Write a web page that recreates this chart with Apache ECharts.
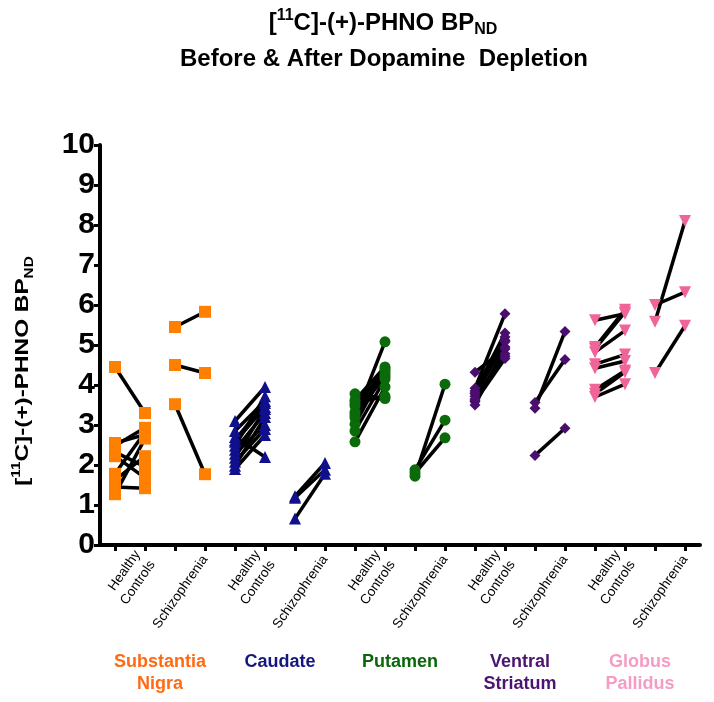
<!DOCTYPE html>
<html><head><meta charset="utf-8">
<script src="https://cdn.jsdelivr.net/npm/echarts@6/dist/echarts.min.js"></script>
<style>html,body{margin:0;padding:0;background:#fff}#c{width:714px;height:702px}</style>
</head><body><div id="c"></div>
<script>
// ---- data ----
const regions = ['Substantia\nNigra', 'Caudate', 'Putamen', 'Ventral\nStriatum', 'Globus\nPallidus'];
const tickLabels = ['', 'Healthy\nControls', '', 'Schizophrenia'];
const yTickValues = [0, 1, 2, 3, 4, 5, 6, 7, 8, 9, 10];

// Substantia Nigra
const snHcPre  = [4.45, 2.55, 2.48, 2.32, 2.22, 1.78, 1.62, 1.45, 1.27];
const snHcPost = [3.30, 2.76, 2.93, 1.96, 1.68, 2.82, 2.22, 1.42, 2.66];
const snSzPre  = [5.45, 4.50, 3.52];
const snSzPost = [5.83, 4.30, 1.77];
// Caudate
const caHcPre  = [3.10, 2.85, 2.70, 2.58, 2.48, 2.38, 2.28, 2.18, 2.08, 1.98, 1.90, 2.62];
const caHcPost = [3.95, 3.60, 2.20, 3.45, 3.72, 3.30, 3.00, 3.40, 2.90, 3.20, 2.75, 3.55];
const caSzPre  = [1.22, 1.18, 0.66];
const caSzPost = [2.05, 1.88, 1.78];
// Putamen
const puHcPre  = [3.78, 3.62, 3.48, 3.32, 3.18, 3.02, 2.85, 2.58, 3.25, 3.55];
const puHcPost = [3.66, 4.45, 4.35, 4.28, 5.08, 4.40, 4.15, 3.95, 4.22, 3.72];
const puSzPre  = [1.72, 1.88, 1.80];
const puSzPost = [4.02, 3.12, 2.68];
// Ventral Striatum
const vsHcPre  = [4.32, 3.92, 3.85, 3.78, 3.72, 3.65, 3.58, 3.50, 3.80, 3.62];
const vsHcPost = [4.90, 5.78, 5.30, 5.20, 5.08, 4.78, 4.66, 4.95, 5.12, 4.72];
const vsSzPre  = [3.42, 3.56, 2.24];
const vsSzPost = [5.34, 4.64, 2.92];
// Globus Pallidus
const gpHcPre  = [5.62, 4.95, 4.82, 4.52, 4.42, 3.88, 3.78, 3.70, 4.90];
const gpHcPost = [5.78, 5.88, 5.36, 4.76, 4.60, 4.36, 4.32, 4.02, 5.82];
const gpSzPre  = [6.00, 5.58, 4.30];
const gpSzPost = [6.32, 8.10, 5.48];

// ---- styling ----
const F = '"Liberation Sans", Arial, Helvetica, sans-serif';
const groups = [
  {hcPre: snHcPre, hcPost: snHcPost, szPre: snSzPre, szPost: snSzPost, symbol: 'rect', size: 12, rot: 0, color: '#FF8000', label: '#FF6A14'},
  {hcPre: caHcPre, hcPost: caHcPost, szPre: caSzPre, szPost: caSzPost, symbol: 'triangle', size: 12, rot: 0, color: '#10108C', label: '#15157F'},
  {hcPre: puHcPre, hcPost: puHcPost, szPre: puSzPre, szPost: puSzPost, symbol: 'circle', size: 11, rot: 0, color: '#0B6B0B', label: '#0A660A'},
  {hcPre: vsHcPre, hcPost: vsHcPost, szPre: vsSzPre, szPost: vsSzPost, symbol: 'diamond', size: 11, rot: 0, color: '#4A0E6E', label: '#4C1470'},
  {hcPre: gpHcPre, hcPost: gpHcPost, szPre: gpSzPre, szPost: gpSzPost, symbol: 'triangle', size: 12, rot: 180, color: '#F0649A', label: '#F59BC4'}
];

const categories = [];
regions.forEach((r, i) => { for (let k = 0; k < 4; k++) categories.push(i + '-' + k); });

const series = [];
groups.forEach((g, r) => {
  const pts = [];
  const addPairs = (pre, post, c0) => {
    pre.forEach((v, j) => {
      series.push({
        type: 'line', xAxisIndex: 0, yAxisIndex: 0, showSymbol: false, silent: true,
        data: [[c0, v], [c0 + 1, post[j]]],
        lineStyle: {color: '#000', width: 3.5}, z: 2, animation: false
      });
      pts.push([c0, v]); pts.push([c0 + 1, post[j]]);
    });
  };
  addPairs(g.hcPre, g.hcPost, 4 * r);
  addPairs(g.szPre, g.szPost, 4 * r + 2);
  series.push({
    type: 'scatter', xAxisIndex: 0, yAxisIndex: 0, data: pts,
    symbol: g.symbol, symbolSize: g.size, symbolRotate: g.rot,
    itemStyle: {color: g.color, opacity: 1}, z: 5, animation: false
  });
});

const richMain = (fs, sfs) => ({
  m: {fontSize: fs, fontWeight: 'bold', fontFamily: F, fill: '#000', lineHeight: fs + 6},
  s: {fontSize: sfs, fontWeight: 'bold', fontFamily: F, fill: '#000', verticalAlign: 'top', lineHeight: sfs},
  d: {fontSize: sfs, fontWeight: 'bold', fontFamily: F, fill: '#000', verticalAlign: 'bottom', lineHeight: sfs}
});
const phno = '{m|[}{s|11}{m|C]-(+)-PHNO BP}{d|ND}';

const chart = echarts.init(document.getElementById('c'), null, {renderer: 'canvas'});
chart.setOption({
  backgroundColor: '#fff',
  animation: false,
  grid: {left: 100, right: 14, top: 145, bottom: 157, containLabel: false},
  xAxis: [
    {
      type: 'category', data: categories, boundaryGap: true, position: 'bottom',
      axisLine: {show: true, lineStyle: {color: '#000', width: 4}},
      axisTick: {show: true, alignWithLabel: true, interval: 0, length: 6, lineStyle: {color: '#000', width: 3}},
      axisLabel: {interval: 0, rotate: 55, margin: 12, fontSize: 13.5, fontFamily: F, color: '#000', lineHeight: 18,
        formatter: (v, i) => tickLabels[i % 4]},
      splitLine: {show: false}
    },
    {
      type: 'category', data: regions.map((r, i) => ({value: r, textStyle: {color: groups[i].label}})),
      boundaryGap: true, position: 'bottom', offset: 0,
      axisLine: {show: false}, axisTick: {show: false}, splitLine: {show: false},
      axisLabel: {interval: 0, margin: 106, fontSize: 18, fontWeight: 'bold', fontFamily: F, lineHeight: 22}
    }
  ],
  yAxis: {
    type: 'value', min: yTickValues[0], max: yTickValues[yTickValues.length - 1], interval: 1,
    axisLine: {show: true, lineStyle: {color: '#000', width: 4}},
    axisTick: {show: true, length: 6, lineStyle: {color: '#000', width: 3}},
    axisLabel: {fontSize: 30, fontWeight: 'bold', fontFamily: F, color: '#000', margin: 5},
    splitLine: {show: false}
  },
  graphic: [
    {type: 'text', x: 383, y: 23, silent: true,
      style: {text: phno, rich: richMain(24, 16), align: 'center', verticalAlign: 'middle'}},
    {type: 'text', x: 384, y: 59, silent: true,
      style: {text: 'Before & After Dopamine  Depletion', font: 'bold 24px ' + F, fill: '#000', align: 'center', verticalAlign: 'middle'}},
    {type: 'text', x: 23, y: 371, rotation: Math.PI / 2, scaleX: 1.28, silent: true,
      style: {text: phno, rich: richMain(19, 12), align: 'center', verticalAlign: 'middle'}}
  ],
  series: series
});
</script></body></html>
